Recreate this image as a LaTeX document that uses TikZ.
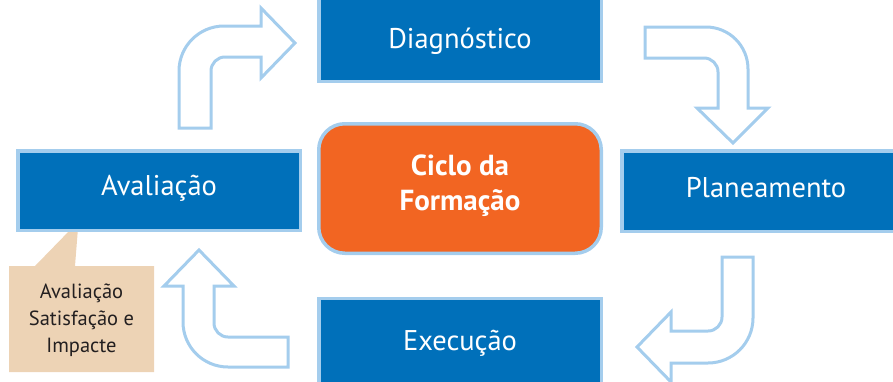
\documentclass[tikz,border=0pt]{standalone}
\usepackage{fontspec}
\setmainfont{PT Sans}
\definecolor{boxblue}{HTML}{0070BA}
\definecolor{edgeblue}{HTML}{A4CDED}
\definecolor{ciclo}{HTML}{F26522}
\definecolor{tan}{HTML}{EDD3B5}
\definecolor{ink}{HTML}{231F20}
\tikzset{
  stagebox/.style={fill=boxblue,draw=edgeblue,line width=3.5pt,inner sep=0pt},
  stagetext/.style={anchor=base,text=white,font=\fontsize{28.5}{32}\selectfont,inner sep=0pt},
  flowarrow/.style={draw=edgeblue,fill=white,line width=3pt,line join=miter},
}
\begin{document}
\begin{tikzpicture}[x=1pt,y=-1pt]
\useasboundingbox (0,0) rectangle (893,381);
\clip (0,0) rectangle (893,381);
% callout
\path[fill=tan] (9,266) -- (35,266) -- (72,228) -- (78,228) -- (75,266) -- (154,266) -- (154,372) -- (9,372) -- cycle;
\node[anchor=base,text=ink,align=center,font=\fontsize{20.5}{27}\selectfont,inner sep=0pt] (nota) at (81.5,352) {Avaliação\\Satisfação e\\Impacte};
% stage boxes
\node[stagebox,minimum width=282.5pt,minimum height=85pt] (diag) at (460,39) {};
\node[stagebox,minimum width=290pt,minimum height=80.5pt] (plan) at (767,191) {};
\node[stagebox,minimum width=282.5pt,minimum height=79.5pt] (aval) at (159,190.5) {};
\node[stagebox,minimum width=282.5pt,minimum height=85pt] (exec) at (460,341) {};
\node[stagetext] (diagt) at (460,48) {Diagnóstico};
\node[stagetext] (plant) at (766,197) {Planeamento};
\node[stagetext] (avalt) at (159,195) {Avaliação};
\node[stagetext] (exect) at (460,350) {Execução};
% centre
\node[fill=ciclo,draw=edgeblue,line width=3.5pt,rounded corners=26pt,minimum width=282.5pt,minimum height=129.5pt,inner sep=0pt] (centre) at (460,188.5) {};
\node[anchor=base,text=white,align=center,font=\bfseries\fontsize{29}{35}\selectfont,inner sep=0pt] (centret) at (460,210) {Ciclo da\\Formação};
% arrows
\draw[flowarrow] (211,128) -- (179,128) [rounded corners=45pt] -- (179,26) [sharp corners] -- (261,26) -- (261,8) -- (295,43) -- (261,78) -- (261,57) [rounded corners=14pt] -- (211,57) [sharp corners] -- cycle;
\draw[flowarrow] (645,27) [rounded corners=42pt] -- (748,27) [sharp corners] -- (748,108) -- (768,108) -- (733,143) -- (697,108) -- (718,108) [rounded corners=14pt] -- (718,58) [sharp corners] -- (645,58) -- cycle;
\draw[flowarrow] (722,257) -- (753,257) [rounded corners=45pt] -- (753,363) [sharp corners] -- (671,363) -- (671,382) -- (637,347) -- (671,312) -- (671,331) [rounded corners=14pt] -- (722,331) [sharp corners] -- cycle;
\draw[flowarrow] (288,337) -- (288,367) [rounded corners=45pt] -- (183,367) [sharp corners] -- (183,286) -- (164,286) -- (199,250) -- (234,286) -- (214,286) [rounded corners=14pt] -- (214,337) [sharp corners] -- cycle;
\end{tikzpicture}
\end{document}
